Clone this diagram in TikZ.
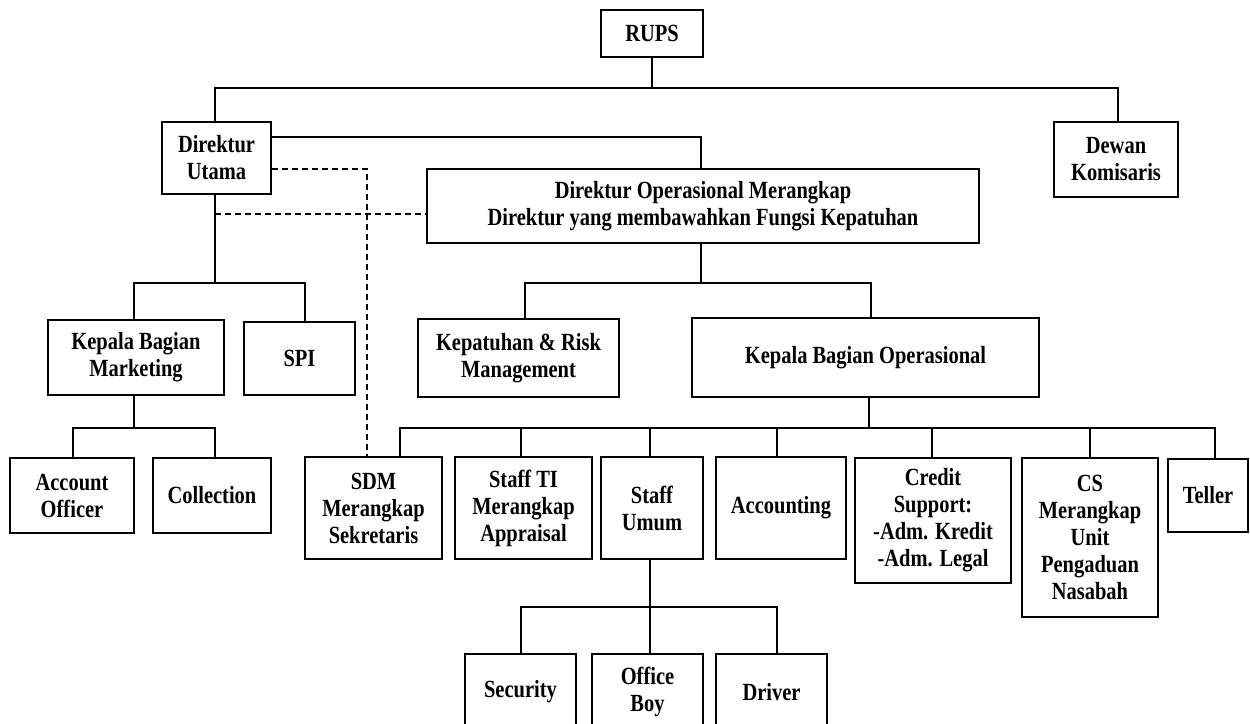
\documentclass[tikz,border=0pt]{standalone}
\usepackage{fontspec}
\setmainfont{Liberation Serif}[FakeStretch=0.83]
\begin{document}
\begin{tikzpicture}[x=0.75pt,y=-0.75pt,line width=1.3pt,line cap=rect,
    font=\fontsize{18.5}{20.25}\selectfont\bfseries,
    box/.style={draw,align=center,inner sep=0pt,line cap=butt},
    sz/.style 2 args={minimum width=#1*0.75pt,minimum height=#2*0.75pt},
    dotline/.style={dashed,line cap=butt,dash pattern=on 4.5pt off 3pt}]
    \useasboundingbox (0,0) rectangle (1250,724);

    \node[box,sz={102}{47}] (rups) at (652,33.5) {RUPS};
    \node[box,sz={109}{72}] (du) at (216.5,158) {Direktur\\Utama};
    \node[box,sz={124}{75}] (dk) at (1116,159.5) {Dewan\\Komisaris};
    \node[box,sz={552}{74}] (do) at (703,206) {Direktur Operasional Merangkap\\Direktur yang membawahkan Fungsi Kepatuhan};

    \node[box,sz={176}{75}] (kbm) at (136,357.5) {Kepala Bagian\\Marketing};
    \node[box,sz={111}{73}] (spi) at (299.5,358.5) {SPI};
    \node[box,sz={201}{78}] (krm) at (518.5,358) {Kepatuhan \& Risk\\Management};
    \node[box,sz={347}{79}] (kbo) at (865.5,357.5) {Kepala Bagian Operasional};

    \node[box,sz={124}{75}] (ao) at (72,495.5) {Account\\Officer};
    \node[box,sz={118}{75}] (col) at (212,495.5) {Collection};
    \node[box,sz={137}{102}] (sdm) at (373.5,508) {SDM\\Merangkap\\Sekretaris};
    \node[box,sz={137}{102}] (sti) at (523.5,508) {Staff TI\\Merangkap\\Appraisal};
    \node[box,sz={102}{102}] (su) at (652,508) {Staff\\Umum};
    \node[box,sz={130}{102}] (acc) at (781,508) {Accounting};
    \node[box,sz={156}{125}] (crs) at (933,520.5) {Credit\\Support:\\-Adm. Kredit\\-Adm. Legal};
    \node[box,sz={136}{159}] (cs) at (1090,537.5) {CS\\Merangkap\\Unit\\Pengaduan\\Nasabah};
    \node[box,sz={80}{73}] (tel) at (1208,495.5) {Teller};

    \node[box,sz={111}{76}] (sec) at (520.5,692) {Security};
    \node[box,sz={111}{76}] (ob) at (647.5,692) {Office\\Boy};
    \node[box,sz={111}{76}] (drv) at (771.5,692) {Driver};

    % top level
    \coordinate (jtop) at (652,88);
    \draw (rups.south) -- (jtop);
    \draw (du.north -| 215,0) |- (jtop) -| (dk.north -| 1118,0);

    % direktur utama -> direktur operasional
    \coordinate (jdo) at (701,137);
    \draw (du.east |- jdo) -- (jdo) -- (jdo |- do.north);

    % dashed lines
    \coordinate (jsdm) at (367,169);
    \draw[dotline] (du.east |- jsdm) -- (jsdm) -- (jsdm |- sdm.north);
    \coordinate (jkep) at (215,214);
    \draw[dotline] (jkep) -- (jkep -| do.west);

    % under direktur utama
    \draw (du.south -| 215,0) -- (215,283);
    \draw (134,283) -- (305,283);
    \foreach \n/\x in {kbm/134,spi/305}
        \draw (\x,283) -- (\x,283 |- \n.north);

    % under direktur operasional
    \draw (do.south -| jdo) -- (701,283);
    \draw (525,283) -- (871,283);
    \foreach \n/\x in {krm/525,kbo/871}
        \draw (\x,283) -- (\x,283 |- \n.north);

    % marketing
    \draw (kbm.south -| 134,0) -- (134,428);
    \draw (73,428) -- (215,428);
    \foreach \n/\x in {ao/73,col/215}
        \draw (\x,428) -- (\x,428 |- \n.north);

    % operasional
    \draw (kbo.south -| 869,0) -- (869,428);
    \draw (400,428) -- (1215,428);
    \foreach \n/\x in {sdm/400,sti/521,su/650,acc/777,crs/932,cs/1090,tel/1215}
        \draw (\x,428) -- (\x,428 |- \n.north);

    % staff umum
    \draw (su.south -| 650,0) -- (650,607);
    \draw (521,607) -- (777,607);
    \foreach \n/\x in {sec/521,ob/650,drv/777}
        \draw (\x,607) -- (\x,607 |- \n.north);
\end{tikzpicture}
\end{document}
